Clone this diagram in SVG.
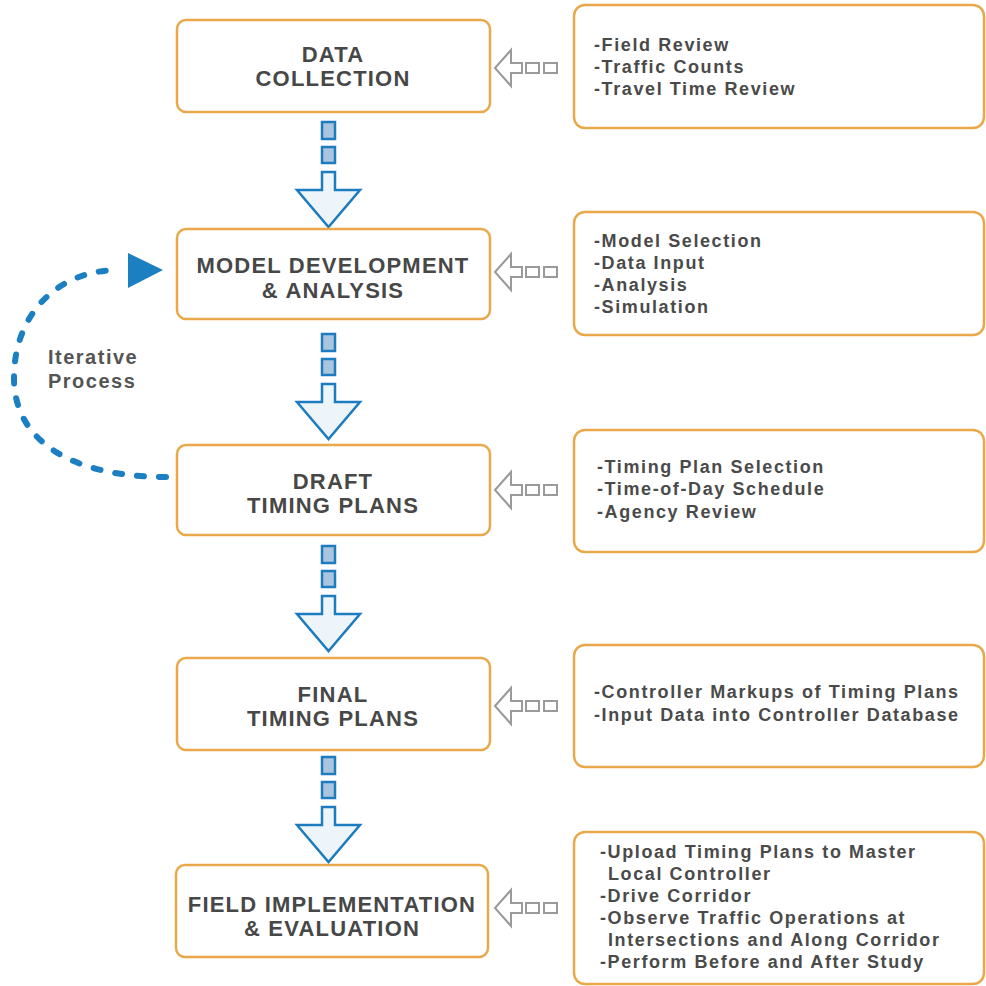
<svg xmlns="http://www.w3.org/2000/svg" xmlns:xlink="http://www.w3.org/1999/xlink" width="986" height="986" viewBox="0 0 986 986">
<style>
.box{fill:#ffffff;stroke:#e9a94b;stroke-width:2.5}
.ttl{font-family:"Liberation Sans",Arial,sans-serif;font-weight:bold;font-size:22px;letter-spacing:1.2px;fill:#474747;text-anchor:middle}
.itm{font-family:"Liberation Sans",Arial,sans-serif;font-weight:bold;font-size:18px;letter-spacing:1.6px;fill:#4a4a4a}
.iter{font-family:"Liberation Sans",Arial,sans-serif;font-weight:bold;font-size:20px;letter-spacing:1.5px;fill:#555555}
.blu{fill:#edf5fb;stroke:#1d7cbf;stroke-width:2.5;stroke-linejoin:miter}
.sq{fill:#a9c6de;stroke:#1d7cbf;stroke-width:2.5}
.gry{fill:#ffffff;stroke:#9a9a9a;stroke-width:2}
.dash{fill:none;stroke:#1b7fc2;stroke-width:6;stroke-linecap:round;stroke-dasharray:7 15}
</style>
<defs>
<g id="downArrow">
<rect class="sq" x="-6.5" y="0" width="13" height="17"/>
<rect class="sq" x="-6.5" y="25" width="13" height="16"/>
<polygon class="blu" points="-6.5,50 6.5,50 6.5,68 31.5,68 0,105 -31.5,68 -6.5,68"/>
</g>
<g id="leftArrow">
<polygon class="gry" points="0,0 16,-18 16,-5 27,-5 27,5 16,5 16,18"/>
<rect class="gry" x="31" y="-5" width="13" height="10"/>
<rect class="gry" x="49" y="-5" width="13" height="10"/>
</g>
</defs>

<g id="connectors">
<use xlink:href="#downArrow" x="328.5" y="122"/>
<use xlink:href="#downArrow" x="328.5" y="334"/>
<use xlink:href="#downArrow" x="328.5" y="546"/>
<use xlink:href="#downArrow" x="328.5" y="757"/>
<use xlink:href="#leftArrow" x="495" y="68"/>
<use xlink:href="#leftArrow" x="495" y="272"/>
<use xlink:href="#leftArrow" x="495" y="490"/>
<use xlink:href="#leftArrow" x="495" y="706"/>
<use xlink:href="#leftArrow" x="495" y="908"/>
<path class="dash" d="M166,477 C70,477 14,440 14,378 C14,312 60,270 118,270"/>
<polygon points="128,253 128,288 163,270" fill="#1b7fc2"/>
</g>

<g id="iterative">
<text class="iter" x="48" y="364">Iterative</text>
<text class="iter" x="48" y="388">Process</text>
</g>

<g id="data-collection">
<rect class="box" x="177" y="20" width="313" height="92" rx="9"/>
<text class="ttl" x="333" y="62">DATA</text>
<text class="ttl" x="333" y="86">COLLECTION</text>
</g>
<g id="model-development">
<rect class="box" x="177" y="229" width="313" height="90" rx="9"/>
<text class="ttl" x="333" y="273">MODEL DEVELOPMENT</text>
<text class="ttl" x="333" y="298">&amp; ANALYSIS</text>
</g>
<g id="draft-timing">
<rect class="box" x="177" y="445" width="313" height="90" rx="9"/>
<text class="ttl" x="333" y="489">DRAFT</text>
<text class="ttl" x="333" y="513">TIMING PLANS</text>
</g>
<g id="final-timing">
<rect class="box" x="177" y="658" width="313" height="92" rx="9"/>
<text class="ttl" x="333" y="702">FINAL</text>
<text class="ttl" x="333" y="726">TIMING PLANS</text>
</g>
<g id="field-implementation">
<rect class="box" x="176" y="865" width="312" height="92" rx="9"/>
<text class="ttl" x="332" y="912">FIELD IMPLEMENTATION</text>
<text class="ttl" x="332" y="936">&amp; EVALUATION</text>
</g>

<g id="detail-1">
<rect class="box" x="574" y="5" width="410" height="123" rx="11"/>
<text class="itm" x="594" y="51">-Field Review</text>
<text class="itm" x="594" y="73">-Traffic Counts</text>
<text class="itm" x="594" y="95">-Travel Time Review</text>
</g>
<g id="detail-2">
<rect class="box" x="574" y="212" width="410" height="123" rx="11"/>
<text class="itm" x="594" y="247">-Model Selection</text>
<text class="itm" x="594" y="269">-Data Input</text>
<text class="itm" x="594" y="291">-Analysis</text>
<text class="itm" x="594" y="313">-Simulation</text>
</g>
<g id="detail-3">
<rect class="box" x="574" y="430" width="410" height="122" rx="11"/>
<text class="itm" x="597" y="473">-Timing Plan Selection</text>
<text class="itm" x="597" y="495">-Time-of-Day Schedule</text>
<text class="itm" x="597" y="518">-Agency Review</text>
</g>
<g id="detail-4">
<rect class="box" x="574" y="645" width="410" height="122" rx="11"/>
<text class="itm" x="594" y="698">-Controller Markups of Timing Plans</text>
<text class="itm" x="594" y="721">-Input Data into Controller Database</text>
</g>
<g id="detail-5">
<rect class="box" x="574" y="832" width="410" height="152" rx="11"/>
<text class="itm" x="600" y="858">-Upload Timing Plans to Master</text>
<text class="itm" x="608" y="880">Local Controller</text>
<text class="itm" x="600" y="902">-Drive Corridor</text>
<text class="itm" x="600" y="924">-Observe Traffic Operations at</text>
<text class="itm" x="608" y="946">Intersections and Along Corridor</text>
<text class="itm" x="600" y="968">-Perform Before and After Study</text>
</g>
</svg>
